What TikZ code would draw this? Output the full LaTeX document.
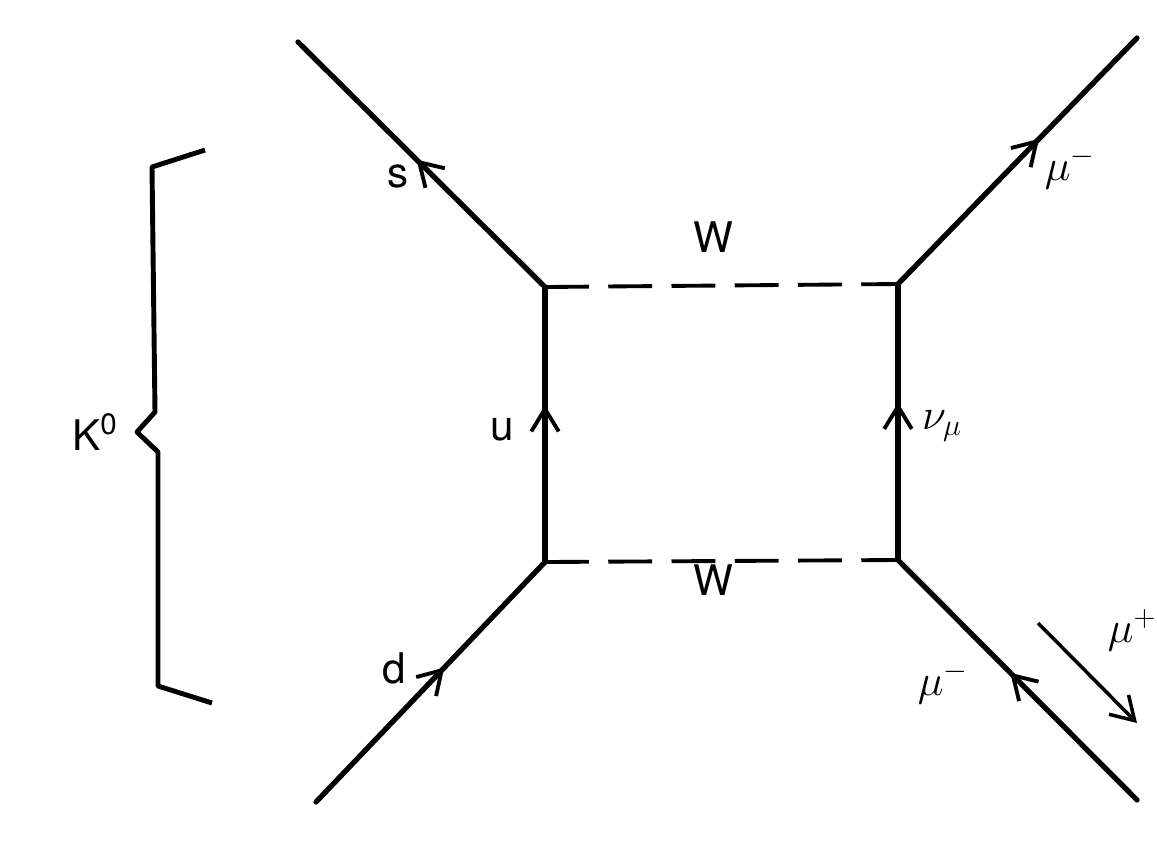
\documentclass[tikz,border=0pt]{standalone}
\usepackage{fontspec}
\setmainfont{TeX Gyre Heros}
\usepackage{tikz}
\usetikzlibrary{arrows.meta,decorations.markings}

\begin{document}
\begin{tikzpicture}[
    x=0.02cm, y=-0.02cm,
    fermion/.style={line width=3pt, line cap=round},
    boson/.style={line width=2.2pt, dash pattern=on 25pt off 11pt},
    flow/.style={postaction={decorate}, decoration={markings,
        mark=at position #1 with {\arrow{Straight Barb[length=4.5mm, width=5.5mm, line width=2.2pt]}}}},
    lbl/.style={font=\fontsize{24}{28}\selectfont, inner sep=0pt},
    brace/.style={line width=2.8pt, line join=round}
]
\useasboundingbox (0,0) rectangle (1157,840);
% vertices of the box
\coordinate (vtl) at (545,287);
\coordinate (vtr) at (898,284);
\coordinate (vbl) at (545,562);
\coordinate (vbr) at (898,560);
% outer ends
\coordinate (etl) at (298,42);
\coordinate (etr) at (1137,38);
\coordinate (ebl) at (316,802);
\coordinate (ebr) at (1137,800);

\draw[fermion, flow=0.52] (vtl) -- (etl);
\draw[fermion, flow=0.57] (vbl) -- (vtl);
\draw[fermion, flow=0.56] (ebl) -- (vbl);
\draw[fermion, flow=0.59] (vtr) -- (etr);
\draw[fermion, flow=0.57] (vbr) -- (vtr);
\draw[fermion, flow=0.53] (ebr) -- (vbr);
\draw[boson] (vtl) -- (vtr);
\draw[boson] (vbl) -- (vbr);

% mu+ direction
\coordinate (pa) at (1038,623);
\coordinate (pb) at (1137,723);
\draw[line width=2pt, -{Straight Barb[length=4.5mm, width=5.5mm]}] (pa) -- (pb);

\node[lbl] (s) at (398,176) {s};
\node[lbl] (u) at (502,430) {u};
\node[lbl] (d) at (394,668) {d};
\node[lbl] (wtop) at (713,237) {W};
\node[lbl] (wbot) at (713,580) {W};
\node[lbl] (nu) at (942,426) {$\nu_{\mu}$};
\node[lbl] (mutop) at (1070,168) {$\mu^{-}$};
\node[lbl] (mubot) at (943,683) {$\mu^{-}$};
\node[lbl] (muplus) at (1132,630) {$\mu^{+}$};
\node[lbl] (kaon) at (95,432) {K\textsuperscript{0}};

% the K0 brace
\draw[brace] (205,150) -- (152,167) -- (155,412) -- (137,432) -- (158,452) -- (158,686) -- (212,703);
\end{tikzpicture}
\end{document}
